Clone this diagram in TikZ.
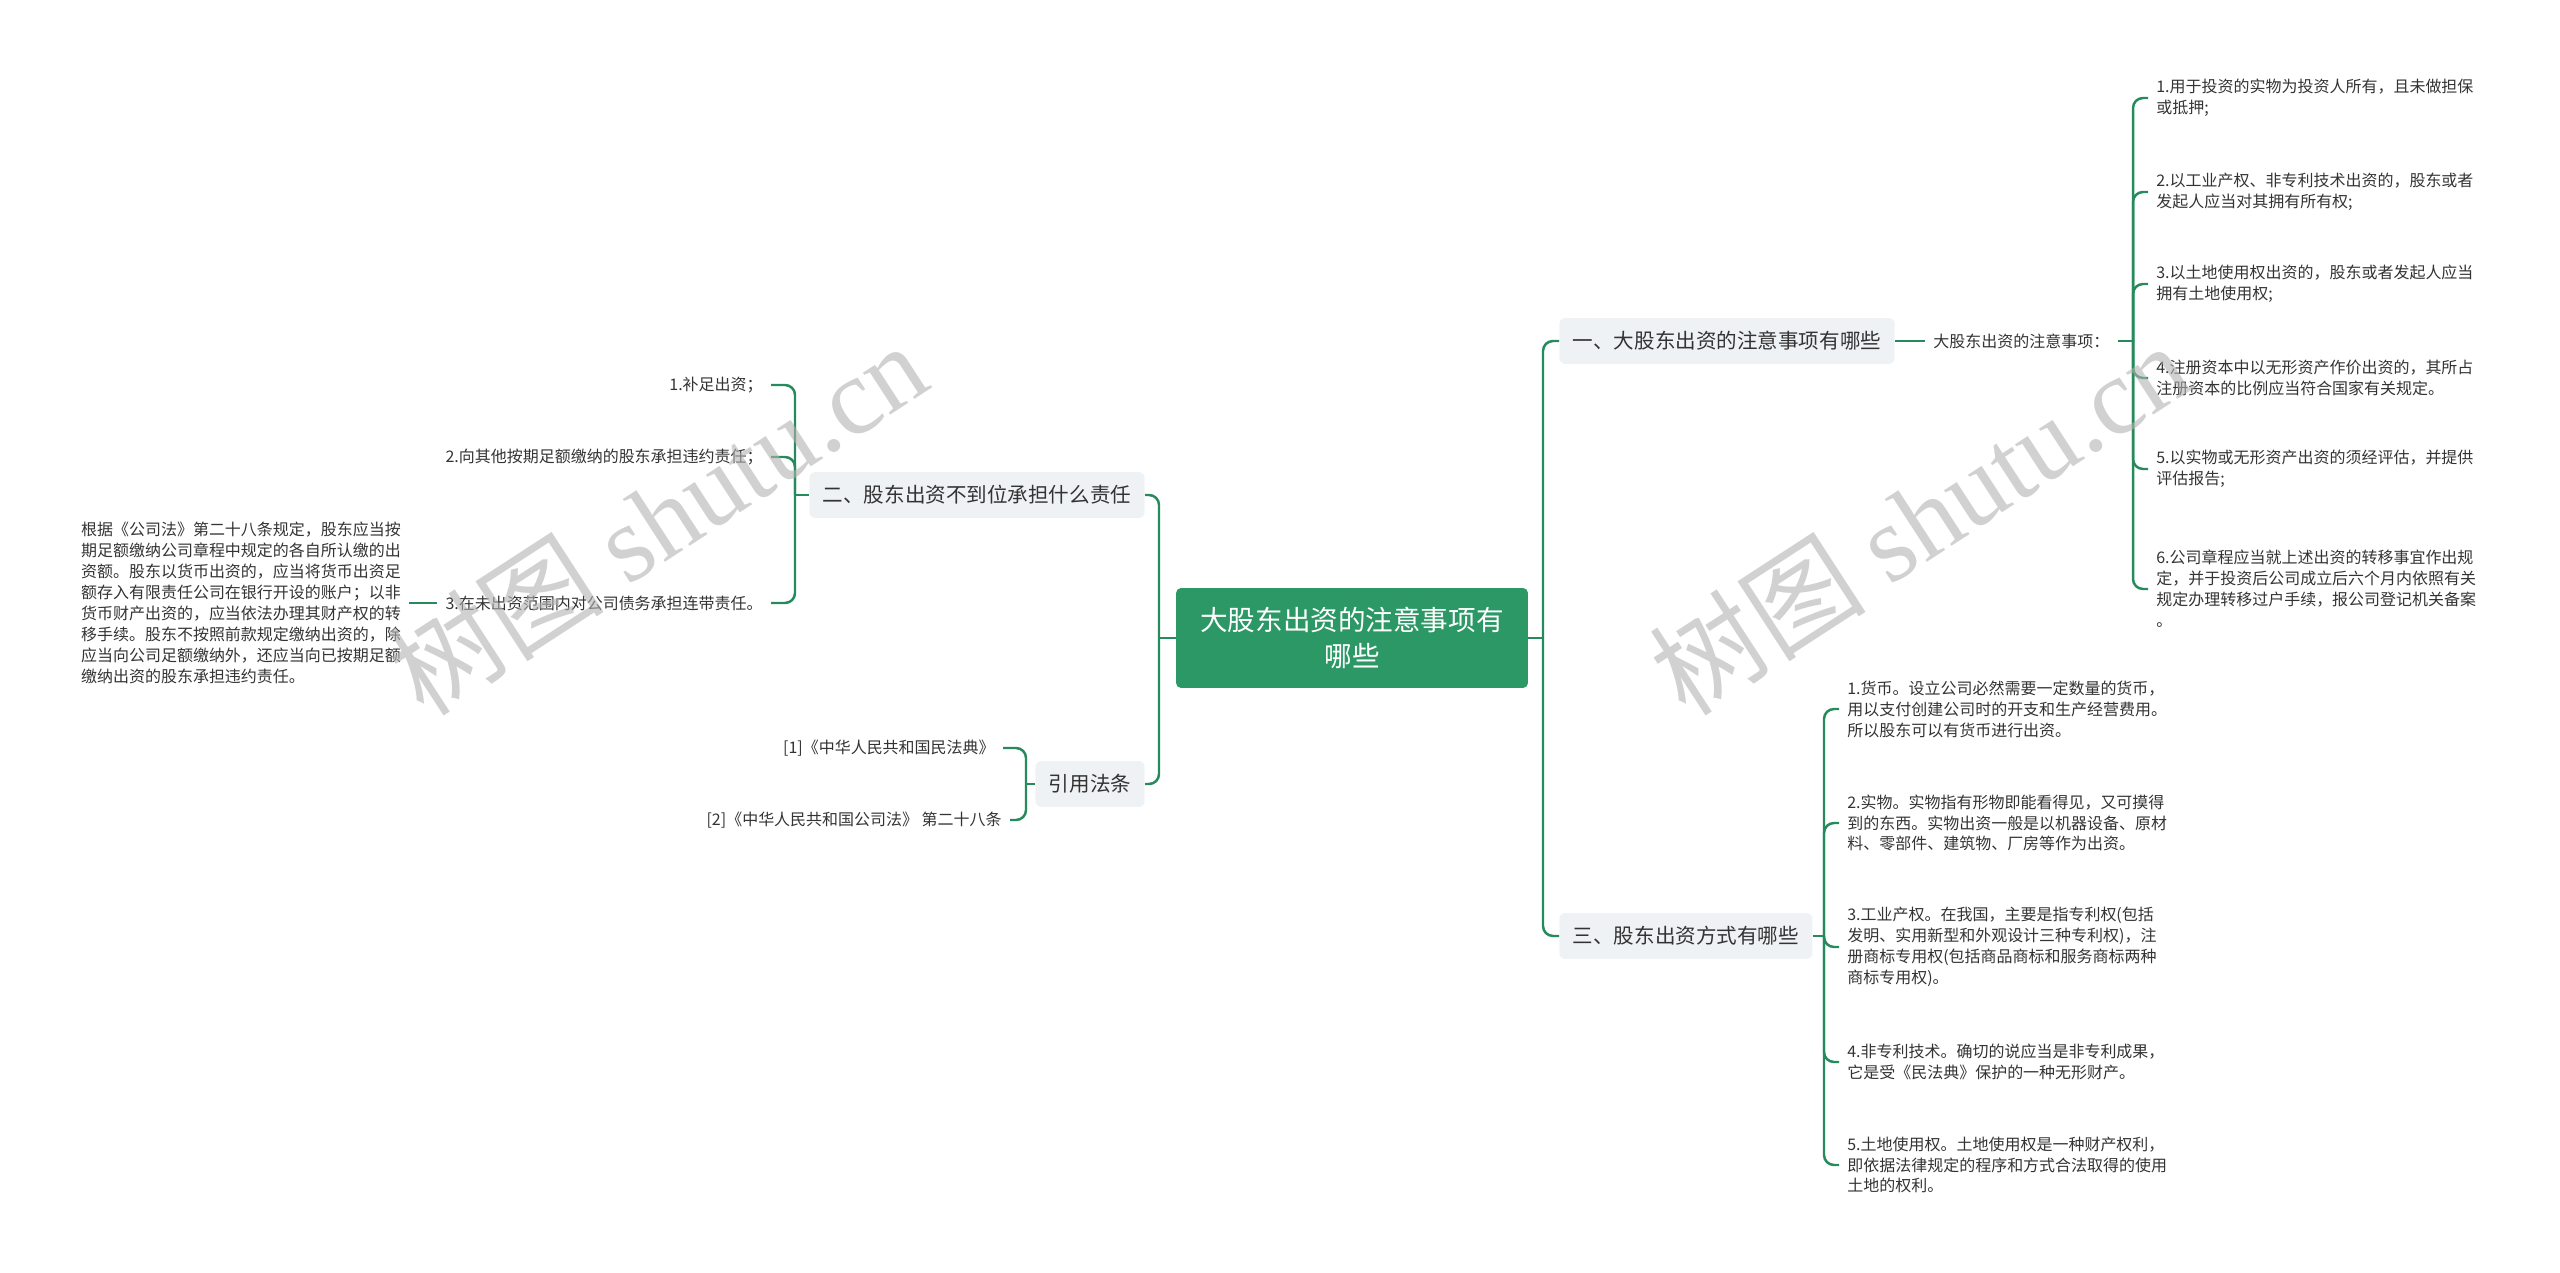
\documentclass[tikz,border=0pt]{standalone}
\usepackage{fontspec}
\setmainfont{Noto Sans CJK SC}
\newfontfamily\wmserif{Liberation Serif}
\usepackage{tikz}
\usetikzlibrary{positioning}
\definecolor{linkgreen}{RGB}{38,138,92}
\definecolor{rootgreen}{RGB}{44,152,102}
\definecolor{topicbg}{RGB}{239,242,245}
\definecolor{inkgray}{RGB}{51,51,51}

\begin{document}
\begin{tikzpicture}[
    x=0.02cm, y=-0.02cm,
    root/.style={fill=rootgreen, rounded corners=0.1cm, text=white,
                 minimum width=7.04cm, minimum height=2cm, align=center,
                 font=\fontsize{15.7pt}{20.4pt}\selectfont},
    topic/.style={fill=topicbg, rounded corners=0.12cm, text=inkgray,
                  minimum height=0.92cm, inner xsep=0.27cm,
                  font=\fontsize{11.7pt}{14pt}\selectfont},
    leaf/.style={text=inkgray, inner xsep=0.16cm, inner ysep=0pt, align=left,
                 font=\fontsize{9.1pt}{11.9pt}\selectfont},
    leafr/.style={leaf, align=right},
    link/.style={draw=linkgreen, line width=1.4pt, rounded corners=0.2cm},
    wmark/.style={text=black!30, opacity=0.6, rotate=33,
                  font=\fontsize{62pt}{62pt}\selectfont},
]
\useasboundingbox (0,0) rectangle (2560,1273);

% Central topic
\node[root] (root) at (1352,638) {大股东出资的注意事项有\\哪些};

% Main branches
\node[topic, anchor=west] (s1) at (1559,341) {一、大股东出资的注意事项有哪些};
\node[topic, anchor=west] (s3) at (1559,936) {三、股东出资方式有哪些};
\node[topic, anchor=east] (s2) at (1145,495) {二、股东出资不到位承担什么责任};
\node[topic, anchor=east] (s4) at (1145,784) {引用法条};

% Branch one
\node[leaf, right=0.6cm of s1] (k1) {大股东出资的注意事项：};
\node[leaf, anchor=west] (r1) at (2148,98)
     {1.用于投资的实物为投资人所有，且未做担保\\或抵押;};
\node[leaf, anchor=west] (r2) at (2148,192)
     {2.以工业产权、非专利技术出资的，股东或者\\发起人应当对其拥有所有权;};
\node[leaf, anchor=west] (r3) at (2148,284)
     {3.以土地使用权出资的，股东或者发起人应当\\拥有土地使用权;};
\node[leaf, anchor=west] (r4) at (2148,378)
     {4.注册资本中以无形资产作价出资的，其所占\\注册资本的比例应当符合国家有关规定。};
\node[leaf, anchor=west] (r5) at (2148,469)
     {5.以实物或无形资产出资的须经评估，并提供\\评估报告;};
\node[leaf, anchor=west] (r6) at (2148,589)
     {6.公司章程应当就上述出资的转移事宜作出规\\定，并于投资后公司成立后六个月内依照有关\\规定办理转移过户手续，报公司登记机关备案\\。};

% Branch three
\node[leaf, anchor=west] (t1) at (1839,709)
     {1.货币。设立公司必然需要一定数量的货币，\\用以支付创建公司时的开支和生产经营费用。\\所以股东可以有货币进行出资。};
\node[leaf, anchor=west] (t2) at (1839,823)
     {2.实物。实物指有形物即能看得见，又可摸得\\到的东西。实物出资一般是以机器设备、原材\\料、零部件、建筑物、厂房等作为出资。};
\node[leaf, anchor=west] (t3) at (1839,947)
     {3.工业产权。在我国，主要是指专利权(包括\\发明、实用新型和外观设计三种专利权)，注\\册商标专用权(包括商品商标和服务商标两种\\商标专用权)。};
\node[leaf, anchor=west] (t4) at (1839,1062)
     {4.非专利技术。确切的说应当是非专利成果，\\它是受《民法典》保护的一种无形财产。};
\node[leaf, anchor=west] (t5) at (1839,1165)
     {5.土地使用权。土地使用权是一种财产权利，\\即依据法律规定的程序和方式合法取得的使用\\土地的权利。};

% Branch two
\node[leafr, anchor=east] (i1) at (771,385) {1.补足出资；};
\node[leafr, anchor=east] (i2) at (771,457) {2.向其他按期足额缴纳的股东承担违约责任；};
\node[leafr, anchor=east] (i3) at (771,603) {3.在未出资范围内对公司债务承担连带责任。};
\node[leaf, left=0.56cm of i3] (p1)
     {根据《公司法》第二十八条规定，股东应当按\\期足额缴纳公司章程中规定的各自所认缴的出\\资额。股东以货币出资的，应当将货币出资足\\额存入有限责任公司在银行开设的账户；以非\\货币财产出资的，应当依法办理其财产权的转\\移手续。股东不按照前款规定缴纳出资的，除\\应当向公司足额缴纳外，还应当向已按期足额\\缴纳出资的股东承担违约责任。};

% Cited laws
\node[leafr, anchor=east] (c1) at (1003,748) {[1]《中华人民共和国民法典》};
\node[leafr, anchor=east] (c2) at (1010,820) {[2]《中华人民共和国公司法》 第二十八条};

% Bracket junctions
\coordinate (jR) at (1543,638);
\coordinate (jL) at (1159,638);
\coordinate (jK) at (2133,341);
\coordinate (jT) at (1824,936);
\coordinate (jS) at (795,495);
\coordinate (jC) at (1026,784);

% Connectors
\draw[link] (root.east) -- (jR);
\draw[link] (root.west) -- (jL);
\foreach \t in {s1,s3} {
    \draw[link] (jR) |- (\t.west);
}
\foreach \t in {s2,s4} {
    \draw[link] (jL) |- (\t.east);
}
\draw[link] (s1.east) -- (k1.west);
\draw[link] (k1.east) -- (jK);
\foreach \c in {r1,r2,r3,r4,r5,r6} {
    \draw[link] (jK) |- (\c.west);
}
\draw[link] (s3.east) -- (jT);
\foreach \c in {t1,t2,t3,t4,t5} {
    \draw[link] (jT) |- (\c.west);
}
\draw[link] (s2.west) -- (jS);
\foreach \c in {i1,i2,i3} {
    \draw[link] (jS) |- (\c.east);
}
\draw[link] (i3.west) -- (p1.east);
\draw[link] (s4.west) -- (jC);
\foreach \c in {c1,c2} {
    \draw[link] (jC) |- (\c.east);
}

% Watermarks
\node[wmark] (wm1) at (657,518) {树图 {\wmserif shutu.cn}};
\node[wmark] (wm2) at (1919,518) {树图 {\wmserif shutu.cn}};

\end{tikzpicture}
\end{document}
